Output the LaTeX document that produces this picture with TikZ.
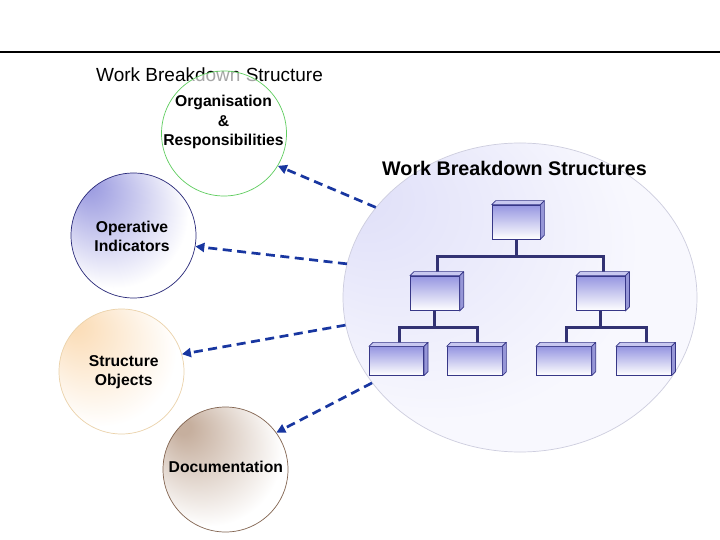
\documentclass[tikz,border=0pt]{standalone}
\usepackage{fontspec}
\setmainfont{Liberation Sans}
\usetikzlibrary{arrows.meta,shapes.geometric}
\definecolor{arrowblue}{RGB}{24,54,160}
\definecolor{bluedark}{RGB}{158,158,225}
\definecolor{orangedark}{RGB}{251,222,186}
\definecolor{browndark}{RGB}{198,175,158}
\definecolor{lavdark}{RGB}{226,226,249}
\definecolor{lavlight}{RGB}{248,248,254}
\definecolor{blueline}{RGB}{40,40,120}
\definecolor{greenline}{RGB}{95,205,95}
\definecolor{orangeline}{RGB}{235,210,170}
\definecolor{brownline}{RGB}{130,100,80}
\definecolor{ellipseline}{RGB}{205,205,222}
\definecolor{boxtop}{RGB}{200,200,240}
\definecolor{boxside}{RGB}{150,150,215}
\definecolor{boxgrad}{RGB}{150,150,225}
\definecolor{boxline}{RGB}{55,55,135}
\definecolor{treeline}{RGB}{50,50,115}
\pgfdeclareradialshading{blueball}{\pgfpoint{-20bp}{22bp}}{color(0bp)=(bluedark); color(3bp)=(bluedark); color(30bp)=(white); color(50bp)=(white)}
\pgfdeclareradialshading{orangeball}{\pgfpoint{-20bp}{20bp}}{color(0bp)=(orangedark); color(3bp)=(orangedark); color(30bp)=(white); color(50bp)=(white)}
\pgfdeclareradialshading{brownball}{\pgfpoint{-18bp}{18bp}}{color(0bp)=(browndark); color(3bp)=(browndark); color(30bp)=(white); color(50bp)=(white)}
\pgfdeclareradialshading{lavball}{\pgfpoint{-25bp}{18bp}}{color(0bp)=(lavdark); color(4bp)=(lavdark); color(28bp)=(lavlight); color(50bp)=(lavlight)}
\pgfdeclarelayer{bg}
\pgfdeclarelayer{mid}
\pgfsetlayers{bg,mid,main}
\newcommand\wbsbox[5]{%
  \node[boxfront, minimum width=#4, minimum height=#5] (#1) at (#2,#3) {};
  \draw[boxface, fill=boxtop] (#1.north west) -- ++(4,-4) -- ([shift={(4,-4)}]#1.north east) -- (#1.north east) -- cycle;
  \draw[boxface, fill=boxside] (#1.north east) -- ++(4,-4) -- ([shift={(4,-4)}]#1.south east) -- (#1.south east) -- cycle;
}
\begin{document}
\begin{tikzpicture}[x=1pt,y=-1pt,
  every node/.style={inner sep=0pt},
  ball/.style={circle, minimum size=125pt, line width=0.7pt},
  lbl/.style={font=\fontsize{15.7}{19}\selectfont\bfseries, align=center},
  arr/.style={draw=arrowblue, line width=2.7pt, dash pattern=on 9pt off 5.5pt, -{Triangle[length=9pt,width=9pt]}},
  tree/.style={draw=treeline, line width=3pt},
  boxfront/.style={rectangle, draw=boxline, line width=0.7pt, top color=boxgrad, bottom color=white},
  boxface/.style={draw=boxline, line width=0.7pt, line join=round}]
\useasboundingbox (0,0) rectangle (720,540);
\begin{pgfonlayer}{bg}
  \fill[white] (0,0) rectangle (720,540);
  \node[ellipse, minimum width=354pt, minimum height=309pt, draw=ellipseline, line width=0.7pt, shading=lavball] (wbs) at (520,297.5) {};
\end{pgfonlayer}
\draw[line width=2pt] (0,52) -- (720,52);
\node[anchor=base west, font=\fontsize{19}{22}\selectfont] (title) at (96,81.5) {Work Breakdown Structure};
\node[ball, draw=greenline, fill=white, fill opacity=0.65] (org) at (224,133.5) {};
\node[ball, draw=blueline, shading=blueball] (op) at (133.5,235.5) {};
\node[ball, draw=orangeline, shading=orangeball] (so) at (121.5,371.5) {};
\node[ball, draw=brownline, shading=brownball] (doc) at (225.5,469.5) {};
\node[lbl] (orgtxt) at (223.5,122) {Organisation\\[0.6pt]\&\\[0.6pt]Responsibilities};
\node[lbl] (optxt) at (132,236.7) {Operative\\Indicators};
\node[lbl] (sotxt) at (123.7,372.5) {Structure\\Objects};
\node[lbl, anchor=base] (doctxt) at (225.8,472.5) {Documentation};
\node[font=\fontsize{19.7}{22}\selectfont\bfseries, anchor=base] (wbstitle) at (514.5,176) {Work Breakdown Structures};
\wbsbox{top}{516}{222}{48}{34}
\wbsbox{l2a}{434.8}{293.3}{49}{34.7}
\wbsbox{l2b}{600.7}{293.3}{48.7}{34.7}
\wbsbox{b1}{396.5}{361}{54.4}{28.6}
\wbsbox{b2}{474.5}{361}{55}{28.6}
\wbsbox{b3}{563.8}{361}{55}{28.6}
\wbsbox{b4}{643.7}{361}{54.7}{28.6}
\begin{pgfonlayer}{mid}
  \draw[tree] (top.south) -- ++(0,16.7) coordinate (j1);
  \draw[tree] ([xshift=3pt]l2a.north) |- (j1) -| ([xshift=3pt]l2b.north);
  \draw[tree] (l2a.south) -- ++(0,16.6) coordinate (j2);
  \draw[tree] ([xshift=3pt]b1.north) |- (j2) -| ([xshift=3pt]b2.north);
  \draw[tree] (l2b.south) -- ++(0,16.6) coordinate (j3);
  \draw[tree] ([xshift=3pt]b3.north) |- (j3) -| ([xshift=3pt]b4.north);
\end{pgfonlayer}
\draw[arr] (wbs.148) -- (org.-31);
\draw[arr] (wbs.169) -- (op.-10);
\draw[arr] (wbs.189) -- (so.16);
\draw[arr] (wbs.210) -- (doc.36);
\end{tikzpicture}
\end{document}
